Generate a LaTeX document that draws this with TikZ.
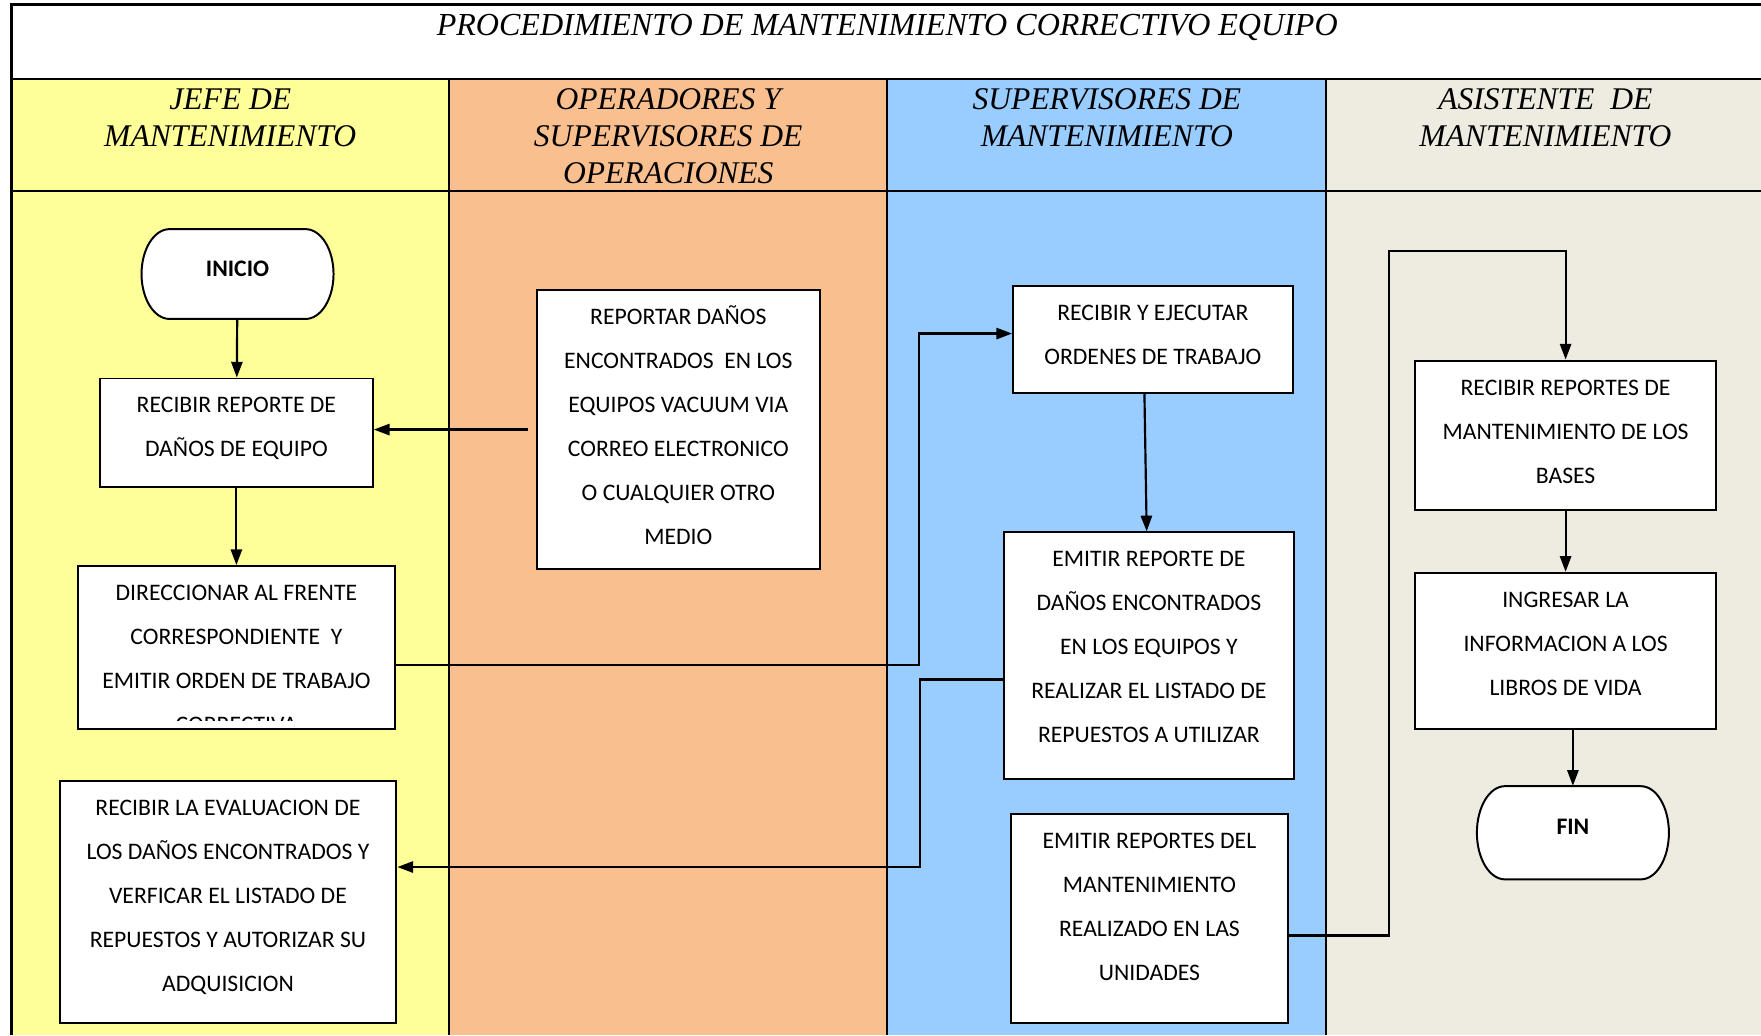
\documentclass[tikz,border=0pt]{standalone}
\usepackage{fontspec}
\usetikzlibrary{positioning,arrows.meta}
\newfontfamily\bodyfont{Carlito}
\newfontfamily\titlefont{Liberation Serif}
\definecolor{jefe}{HTML}{FFFF99}
\definecolor{oper}{HTML}{F9BF8F}
\definecolor{superv}{HTML}{99CCFF}
\definecolor{asist}{HTML}{EEECE1}
\newcommand\topln{\rule{0pt}{15.5pt}}
\newcommand\headln{\rule{0pt}{14pt}}
\tikzset{
  stepbox/.style={draw, fill=white, line width=1pt, inner sep=0pt},
  steptext/.style={inner sep=0pt, align=center, font=\bodyfont\fontsize{12}{22.3}\selectfont},
  termline/.style={draw, fill=white, line width=1pt},
  termtext/.style={inner sep=0pt, minimum width=3.42cm, font=\bodyfont\bfseries\fontsize{12}{14}\selectfont, text depth=0.2cm},
  lanehead/.style={anchor=north, inner sep=0pt, align=center, font=\titlefont\itshape\fontsize{16}{18.7}\selectfont},
  flow/.style={line width=1.1pt, -{Triangle[length=0.28cm,width=0.2cm]}},
}

\begin{document}
\begin{tikzpicture}[x=0.02cm, y=-0.02cm]
\useasboundingbox (0,0) rectangle (1568,922);
\fill[jefe] (10,70) rectangle (400,922);
\fill[oper] (400,70) rectangle (790,922);
\fill[superv] (790,70) rectangle (1181,922);
\fill[asist] (1181,70) rectangle (1572,922);
\draw[line width=1.5pt] (10,922) -- (10,4) -- (1572,4);
\draw[line width=0.9pt] (10,70) -- (1572,70) (10,170) -- (1572,170);
\foreach \x in {400,790,1181} \draw[line width=0.9pt] (\x,70) -- (\x,922);

\node[anchor=base, inner sep=0pt, font=\titlefont\itshape\fontsize{16.25}{18.7}\selectfont] (title) at (790,31.3) {PROCEDIMIENTO DE MANTENIMIENTO CORRECTIVO EQUIPO};
\node[lanehead] (h1) at (205,72.6) {\headln JEFE DE\\MANTENIMIENTO};
\node[lanehead] (h2) at (595,72.6) {\headln OPERADORES Y\\SUPERVISORES DE\\OPERACIONES};
\node[lanehead] (h3) at (985.5,72.6) {\headln SUPERVISORES DE\\MANTENIMIENTO};
\node[lanehead] (h4) at (1376,72.6) {\headln ASISTENTE\ \ DE\\MANTENIMIENTO};

\coordinate (inic) at (211.5,244);
\draw[termline] ([xshift=-1.21cm,yshift=0.8cm]inic) -- ++(2.42cm,0)
  arc[start angle=90, end angle=-90, x radius=0.5cm, y radius=0.8cm] -- ++(-2.42cm,0)
  arc[start angle=270, end angle=90, x radius=0.5cm, y radius=0.8cm] -- cycle;
\node[termtext, minimum height=1.6cm] (ini) at (inic) {INICIO};
\node[stepbox, minimum width=4.86cm, minimum height=1.94cm] (b1) at (210.5,385.5) {};
\node[steptext, below=0.08cm of b1.north] (b1t) {\topln RECIBIR REPORTE DE\\DAÑOS DE EQUIPO};
\node[stepbox, minimum width=5.66cm, minimum height=2.9cm] (b2) at (210.5,576.5) {};
\begin{scope}
\clip ([yshift=0.16cm]b2.south west) rectangle (b2.north east);
\node[steptext, below=0.08cm of b2.north] (b2t) {\topln DIRECCIONAR AL FRENTE\\CORRESPONDIENTE\ \ Y\\EMITIR ORDEN DE TRABAJO\\CORRECTIVA};
\end{scope}
\node[stepbox, minimum width=6cm, minimum height=4.32cm] (b3) at (203,803) {};
\node[steptext, below=0.08cm of b3.north] (b3t) {\topln RECIBIR LA EVALUACION DE\\LOS DAÑOS ENCONTRADOS Y\\VERFICAR EL LISTADO DE\\REPUESTOS Y AUTORIZAR SU\\ADQUISICION};

\node[stepbox, minimum width=5.04cm, minimum height=4.98cm] (b4) at (604,382.5) {};
\node[steptext, below=0.08cm of b4.north] (b4t) {\topln REPORTAR DAÑOS\\ENCONTRADOS\ \ EN LOS\\EQUIPOS VACUUM VIA\\CORREO ELECTRONICO\\O CUALQUIER OTRO\\MEDIO};

\node[stepbox, minimum width=4.98cm, minimum height=1.9cm] (b5) at (1026.5,302.5) {};
\node[steptext, below=0.08cm of b5.north] (b5t) {\topln RECIBIR Y EJECUTAR\\ORDENES DE TRABAJO};
\node[stepbox, minimum width=5.16cm, minimum height=4.4cm] (b6) at (1023,584) {};
\node[steptext, below=0.08cm of b6.north] (b6t) {\topln EMITIR REPORTE DE\\DAÑOS ENCONTRADOS\\EN LOS EQUIPOS Y\\REALIZAR EL LISTADO DE\\REPUESTOS A UTILIZAR};
\node[stepbox, minimum width=4.94cm, minimum height=3.72cm] (b7) at (1023.5,818) {};
\node[steptext, below=0.08cm of b7.north] (b7t) {\topln EMITIR REPORTES DEL\\MANTENIMIENTO\\REALIZADO EN LAS\\UNIDADES};

\node[stepbox, minimum width=5.36cm, minimum height=2.66cm] (b8) at (1394,387.5) {};
\node[steptext, below=0.08cm of b8.north] (b8t) {\topln RECIBIR REPORTES DE\\MANTENIMIENTO DE LOS\\BASES};
\node[stepbox, minimum width=5.36cm, minimum height=2.78cm] (b9) at (1394,579.5) {};
\node[steptext, below=0.08cm of b9.north] (b9t) {\topln INGRESAR LA\\INFORMACION A LOS\\LIBROS DE VIDA};
\coordinate (finc) at (1400.5,741.5);
\draw[termline] ([xshift=-1.21cm,yshift=0.83cm]finc) -- ++(2.42cm,0)
  arc[start angle=90, end angle=-90, x radius=0.5cm, y radius=0.83cm] -- ++(-2.42cm,0)
  arc[start angle=270, end angle=90, x radius=0.5cm, y radius=0.83cm] -- cycle;
\node[termtext, minimum height=1.66cm] (fin) at (finc) {FIN};

\draw[flow] (ini) -- (b1);
\draw[flow] ([xshift=-0.14cm]b4.west) -- (b4.west -| b1.east);
\draw[flow] (b1) -- (b2);
\draw[flow] ([yshift=-0.31cm]b2.east) -| ([xshift=-1.66cm,yshift=0.11cm]b5.west) -- ([yshift=0.11cm]b5.west);
\draw[flow] ([xshift=-0.15cm]b5.south) -- ([xshift=-0.04cm]b6.north);
\draw[flow] ([yshift=-0.42cm]b6.west) -- ++(-1.48cm,0) |- ([yshift=0.62cm]b3.east);
\draw[flow] ([yshift=-0.3cm]b7.east) -- ++(1.78cm,0) |- ([yshift=1.94cm]b8.north) -- (b8.north);
\draw[flow] (b8) -- (b9);
\draw[flow] (b9.south -| fin.north) -- (fin.north);
\end{tikzpicture}
\end{document}
